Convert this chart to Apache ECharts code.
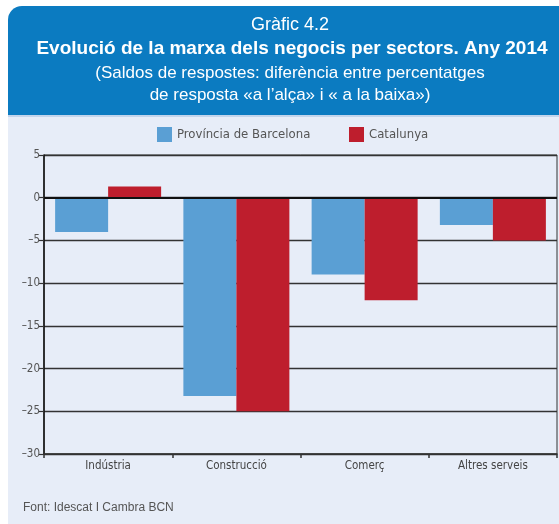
<!DOCTYPE html>
<html>
<head>
<meta charset="utf-8">
<script src="https://cdn.jsdelivr.net/npm/echarts@6/dist/echarts.min.js"></script>
<style>
  html, body { margin: 0; padding: 0; background: #fff; }
  #chart { width: 559px; height: 524px; }
</style>
</head>
<body>
<div id="chart"></div>
<script>
// data
var categories = ['Indústria', 'Construcció', 'Comerç', 'Altres serveis'];
var barcelona = [-4, -23.2, -9, -3.2];
var catalunya = [1.3, -25, -12, -5];
var seriesNames = ['Província de Barcelona', 'Catalunya'];

var titleLines = [
	'Gràfic 4.2',
	'Evolució de la marxa dels negocis per sectors. Any 2014',
	'(Saldos de respostes: diferència entre percentatges',
	'de resposta «a l’alça» i « a la baixa»)'
];
var sourceText = 'Font: Idescat I Cambra BCN';

var NARROW = "'Liberation Sans Narrow', 'DejaVu Sans Condensed', sans-serif";
var SANS = "'Liberation Sans', Arial, sans-serif";
var BLUE = '#5a9fd4';
var RED = '#be1e2d';
var LINE = '#333333';

var chart = echarts.init(document.getElementById('chart'), null, { renderer: 'canvas' });

var option = {
	animation: false,
	backgroundColor: '#ffffff',
	graphic: [
		// blue header box
		{
			type: 'rect', z: -10,
			shape: { x: 8, y: 6, width: 551, height: 109, r: [14, 0, 0, 0] },
			style: { fill: '#0b7bc1' }
		},
		// light panel
		{
			type: 'rect', z: -10,
			shape: { x: 8, y: 115, width: 551, height: 409 },
			style: { fill: '#e7edf8' }
		},
		{
			type: 'rect', z: -9,
			shape: { x: 8, y: 115, width: 551, height: 2 },
			style: { fill: '#c3d5ec' }
		},
		{
			type: 'text', x: 290, y: 25,
			style: { text: titleLines[0], fill: '#ffffff', font: '18px ' + SANS, align: 'center', verticalAlign: 'middle' }
		},
		{
			type: 'text', x: 292, y: 49,
			style: { text: titleLines[1], fill: '#ffffff', font: 'bold 19px ' + SANS, align: 'center', verticalAlign: 'middle' }
		},
		{
			type: 'text', x: 290, y: 73,
			style: { text: titleLines[2], fill: '#ffffff', font: '17px ' + SANS, align: 'center', verticalAlign: 'middle' }
		},
		{
			type: 'text', x: 290, y: 95,
			style: { text: titleLines[3], fill: '#ffffff', font: '17px ' + SANS, align: 'center', verticalAlign: 'middle' }
		},
		{
			type: 'text', x: 23, y: 508,
			style: { text: sourceText, fill: '#555555', font: '12px ' + SANS, align: 'left', verticalAlign: 'middle' }
		}
	],
	legend: [
		{
			left: 152, top: 122,
			itemWidth: 15, itemHeight: 15,
			icon: 'rect',
			data: [seriesNames[0]],
			textStyle: { fontFamily: NARROW, fontSize: 13, color: '#555555' }
		},
		{
			left: 344, top: 122,
			itemWidth: 15, itemHeight: 15,
			icon: 'rect',
			data: [seriesNames[1]],
			textStyle: { fontFamily: NARROW, fontSize: 13, color: '#555555' }
		}
	],
	grid: {
		left: 44, right: 2, top: 155, bottom: 70,
		show: true,
		borderColor: LINE,
		borderWidth: 1,
		backgroundColor: 'transparent'
	},
	xAxis: {
		type: 'category',
		data: categories,
		axisLine: { onZero: false, lineStyle: { color: LINE, width: 1.5 } },
		axisTick: { show: true, length: 4, lineStyle: { color: LINE, width: 1.5 } },
		axisLabel: { fontFamily: NARROW, fontSize: 11.5, color: '#444444', margin: 6 },
		splitLine: { show: false }
	},
	yAxis: {
		type: 'value',
		min: -30, max: 5, interval: 5,
		axisLine: { show: true, lineStyle: { color: '#111111', width: 1.5 } },
		axisTick: { show: true, length: 5, lineStyle: { color: LINE, width: 1.2 } },
		axisLabel: {
			fontFamily: NARROW, fontSize: 11.5, color: '#555555', margin: 4,
			formatter: function (v) { return v < 0 ? '–' + (-v) : String(v); }
		},
		splitLine: { show: true, lineStyle: { color: LINE, width: 1.3 } }
	},
	series: [
		{
			name: seriesNames[0],
			type: 'bar',
			data: barcelona,
			barWidth: 53,
			barGap: '0%',
			itemStyle: { color: BLUE },
			markLine: {
				silent: true,
				symbol: 'none',
				label: { show: false },
				lineStyle: { color: '#111111', width: 2, type: 'solid' },
				data: [{ yAxis: 0 }]
			}
		},
		{
			name: seriesNames[1],
			type: 'bar',
			data: catalunya,
			barWidth: 53,
			itemStyle: { color: RED }
		}
	]
};

chart.setOption(option);
</script>
</body>
</html>
